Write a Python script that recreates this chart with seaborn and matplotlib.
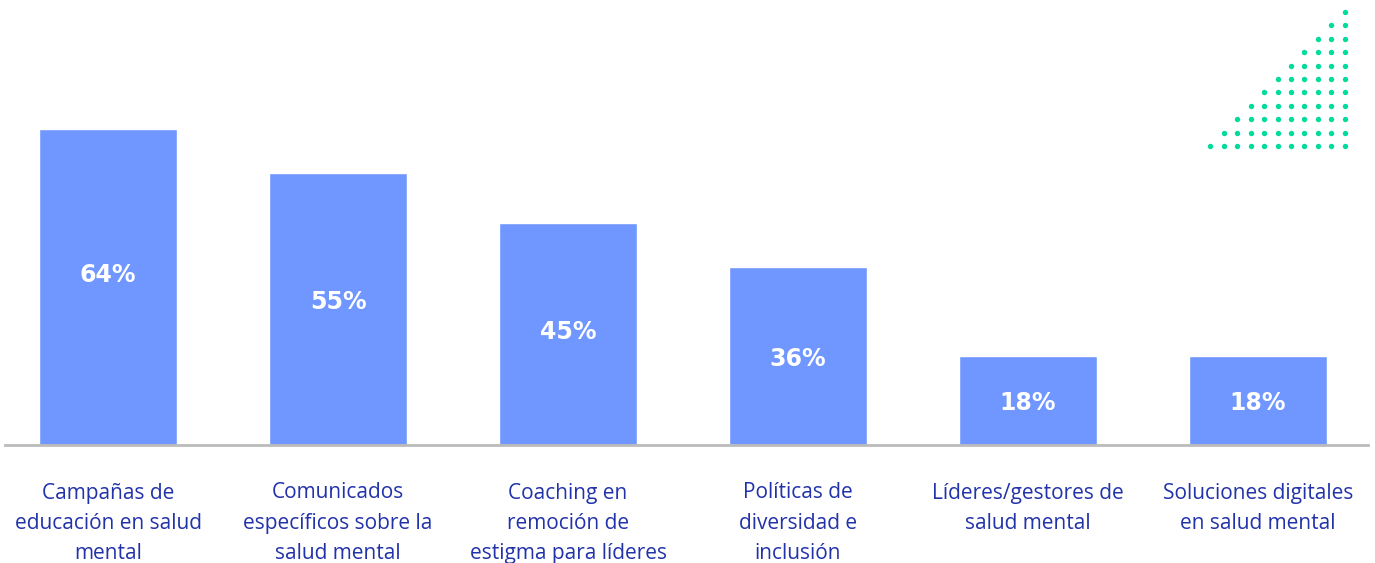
import matplotlib
matplotlib.use("Agg")
import matplotlib.pyplot as plt
import seaborn as sns
import pandas as pd

# Chart data
categories = [
    "Campañas de\neducación en salud\nmental",
    "Comunicados\nespecíficos sobre la\nsalud mental",
    "Coaching en\nremoción de\nestigma para líderes",
    "Políticas de\ndiversidad e\ninclusión",
    "Líderes/gestores de\nsalud mental",
    "Soluciones digitales\nen salud mental",
]
values = [64, 55, 45, 36, 18, 18]

bar_color = "#6F97FF"
text_color = "#2233AA"
dot_color = "#00DC9B"

df = pd.DataFrame({"categoria": categories, "valor": values})

sns.set_theme(style="white")
plt.rcParams["font.family"] = ["Open Sans", "DejaVu Sans"]

fig = plt.figure(figsize=(13.75, 5.63), dpi=100)
ax = fig.add_axes([5 / 1375, 118 / 563, 1363 / 1375, 415 / 563])

sns.barplot(data=df, x="categoria", y="valor", color=bar_color,
            width=0.6, saturation=1, ax=ax)

ax.set_xlim(-0.448, 5.478)
ax.set_ylim(0, 84)

# value labels inside bars
for i, v in enumerate(values):
    ypos = max(0.61 * v - 4.6, 0.47 * v)
    ax.text(i, ypos, f"{v}%", ha="center", va="center",
            color="white", fontsize=17, fontweight="bold",
            family="DejaVu Sans")

sns.despine(ax=ax, left=True, top=True, right=True)
ax.spines["bottom"].set_color("#BBBBBB")
ax.spines["bottom"].set_linewidth(2)
ax.set_yticks([])
ax.set_xlabel("")
ax.set_ylabel("")
ax.tick_params(axis="x", length=0, pad=27, labelsize=15, labelcolor=text_color)
for lbl in ax.get_xticklabels():
    lbl.set_linespacing(1.58)
    lbl.set_va("top")

# decorative dot triangle (top right)
deco = fig.add_axes([1200 / 1375, 405 / 563, 155 / 1375, 158 / 563])
xs, ys = [], []
for r in range(11):
    for c in range(10 - r, 11):
        xs.append(c)
        ys.append(-r)
deco.scatter(xs, ys, s=15, color=dot_color, linewidths=0)
deco.set_xlim(-0.75, 10.75)
deco.set_ylim(-10.9, 0.9)
deco.axis("off")

fig.savefig("out.png", dpi=100, facecolor="white")
